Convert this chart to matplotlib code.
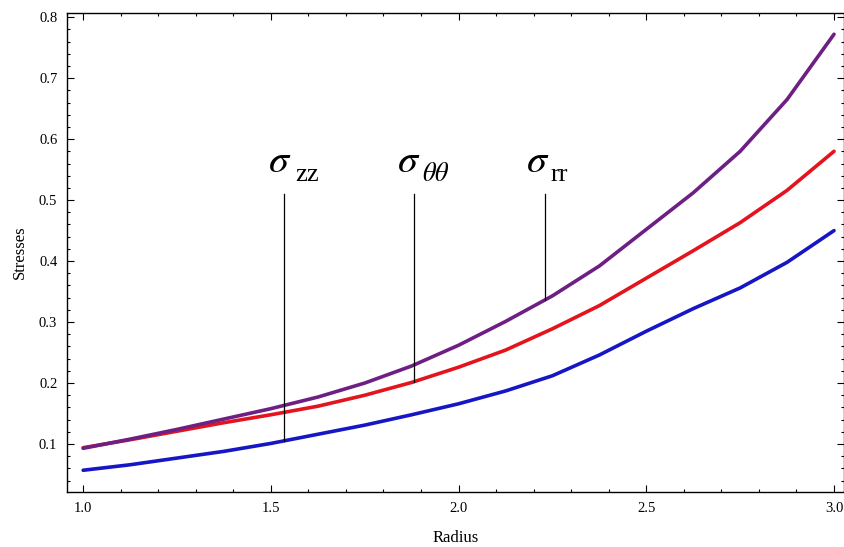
import numpy as np
import matplotlib
matplotlib.use("Agg")
import matplotlib.pyplot as plt
from matplotlib.ticker import MultipleLocator

# values
radius = [1.0, 1.125, 1.25, 1.375, 1.5, 1.625, 1.75, 1.875, 2.0,
          2.125, 2.25, 2.375, 2.5, 2.625, 2.75, 2.875, 3.0]
sigma_rr = [0.093, 0.108, 0.124, 0.141, 0.158, 0.177, 0.200, 0.228, 0.262,
            0.301, 0.343, 0.392, 0.452, 0.512, 0.580, 0.665, 0.772]
sigma_tt = [0.094, 0.107, 0.121, 0.135, 0.148, 0.162, 0.180, 0.201, 0.226,
            0.254, 0.289, 0.327, 0.372, 0.417, 0.463, 0.516, 0.580]
sigma_zz = [0.057, 0.066, 0.077, 0.088, 0.101, 0.116, 0.131, 0.148, 0.166,
            0.187, 0.212, 0.246, 0.285, 0.322, 0.356, 0.398, 0.450]

# curve labels: subscript text, x of pointer line, x of sigma, x of subscript
label_subs = ["zz", r"$\theta\theta$", "rr"]
label_line_x = [1.535, 1.880, 2.231]
label_sigma_x = [1.492, 1.835, 2.179]
label_sub_x = [1.564, 1.902, 2.244]
label_line_top = 0.510
sigma_base_y = 0.546
sub_base_y = 0.532

plt.rcParams["font.family"] = ["Liberation Serif", "DejaVu Serif"]
plt.rcParams["mathtext.fontset"] = "stix"

fig = plt.figure(figsize=(8.45, 5.47), dpi=100)
ax = fig.add_axes([0.0793, 0.1005, 0.9197, 0.8755])

ax.plot(radius, sigma_zz, color="#1616c4", lw=2.6, solid_capstyle="round")
ax.plot(radius, sigma_tt, color="#e3141e", lw=2.6, solid_capstyle="round")
ax.plot(radius, sigma_rr, color="#6e1f84", lw=2.6, solid_capstyle="round")

# pointer lines from label down to the curve
curves = [sigma_zz, sigma_tt, sigma_rr]
for sub, lx, sx, bx, c in zip(label_subs, label_line_x, label_sigma_x, label_sub_x, curves):
    yb = np.interp(lx, radius, c)
    ax.plot([lx, lx], [yb, label_line_top], color="black", lw=0.9)
    ax.text(sx, sigma_base_y, r"$\sigma$", fontsize=29, ha="left", va="baseline")
    ax.text(bx, sub_base_y, sub, fontsize=19, ha="left", va="baseline")

ax.set_xlim(0.957, 3.027)
ax.set_ylim(0.0213, 0.8066)
ax.xaxis.set_minor_locator(MultipleLocator(0.1))
ax.yaxis.set_minor_locator(MultipleLocator(0.02))
ax.set_xticks([1.0, 1.5, 2.0, 2.5, 3.0])
ax.set_yticks([0.1, 0.2, 0.3, 0.4, 0.5, 0.6, 0.7, 0.8])
ax.tick_params(which="both", direction="in", top=True, right=True,
               labelsize=10.5, width=0.8, pad=7)
ax.tick_params(which="major", length=5)
ax.tick_params(which="minor", length=2.5)
for s in ax.spines.values():
    s.set_linewidth(1.0)

ax.set_xlabel("Radius", fontsize=12, labelpad=11)
ax.set_ylabel("Stresses", fontsize=12, labelpad=8)

fig.savefig("out.png", dpi=100)
